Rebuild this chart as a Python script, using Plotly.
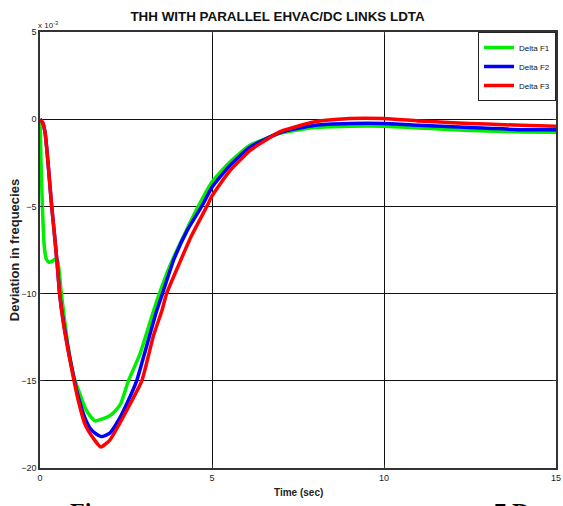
import plotly.graph_objects as go

# ---- data (values in units of 1e-3) ----
t_f1 = [0, 0.03, 0.07, 0.12, 0.18, 0.25, 0.35, 0.45, 0.52, 0.6, 0.7, 0.8, 0.9, 1.02, 1.15, 1.3,
        1.45, 1.6, 1.8, 2.03, 2.2, 2.35, 2.57, 2.9, 3.3, 3.47, 3.8, 4.2, 4.6, 5.0, 5.5, 6.1,
        7.0, 8.0, 9.0, 10.0, 11.0, 12.0, 13.0, 14.0, 15.0]
v_f1 = [0, -2.5, -5.0, -7.2, -8.0, -8.2, -8.15, -8.0, -8.2, -9.6, -11.3, -12.8, -14.0, -15.0,
        -15.7, -16.5, -17.0, -17.3, -17.2, -17.0, -16.7, -16.3, -15.0, -13.5, -11.0, -10.0,
        -8.3, -6.6, -5.0, -3.6, -2.5, -1.5, -0.8, -0.48, -0.4, -0.4, -0.5, -0.6, -0.68, -0.73, -0.75]

t_f2 = [0, 0.08, 0.15, 0.22, 0.28, 0.34, 0.42, 0.5, 0.57, 0.68, 0.82, 0.97, 1.11, 1.3, 1.45,
        1.6, 1.79, 2.03, 2.3, 2.55, 2.81, 3.1, 3.39, 3.56, 3.9, 4.3, 4.7, 5.0, 5.5, 6.1, 7.0,
        8.0, 9.0, 10.0, 11.0, 12.0, 13.0, 14.0, 15.0]
v_f2 = [0, -0.2, -0.8, -2.2, -3.6, -5.0, -6.6, -8.3, -10.0, -11.6, -13.2, -14.7, -15.9, -17.1,
        -17.7, -18.0, -18.2, -18.0, -17.2, -16.2, -15.0, -13.0, -11.0, -10.0, -8.0, -6.3, -5.0,
        -3.9, -2.7, -1.6, -0.75, -0.35, -0.25, -0.25, -0.35, -0.44, -0.52, -0.6, -0.6]

t_f3 = [0, 0.08, 0.15, 0.22, 0.28, 0.34, 0.42, 0.5, 0.57, 0.68, 0.82, 0.97, 1.11, 1.31, 1.55,
        1.77, 2.03, 2.3, 2.6, 2.96, 3.3, 3.54, 3.68, 4.0, 4.4, 4.85, 5.0, 5.5, 6.1, 6.4, 7.0,
        8.0, 9.0, 10.0, 11.0, 12.0, 13.0, 14.0, 15.0]
v_f3 = [0, -0.2, -0.8, -2.2, -3.6, -5.0, -6.6, -8.3, -10.0, -11.7, -13.3, -14.8, -16.1, -17.5,
        -18.3, -18.8, -18.4, -17.5, -16.4, -15.0, -12.4, -11.0, -10.0, -8.5, -6.7, -5.0, -4.4,
        -3.0, -1.8, -1.4, -0.7, -0.15, 0.04, 0.04, -0.1, -0.2, -0.28, -0.35, -0.4]

names = ["Delta F1", "Delta F2", "Delta F3"]
colors = ["#00ee00", "#0000ff", "#ff0000"]
x_ticks = [0, 5, 10, 15]
y_ticks = [5, 0, -5, -10, -15, -20]

fig = go.Figure()
for t, v, n, c in zip([t_f1, t_f2, t_f3], [v_f1, v_f2, v_f3], names, colors):
    fig.add_trace(go.Scatter(x=t, y=v, mode="lines", name=n,
                             line=dict(color=c, width=3.5, shape="spline", smoothing=0.5)))

axis_common = dict(showgrid=True, gridcolor="#111111", gridwidth=1, zeroline=False,
                   showline=True, linecolor="#333333", linewidth=1.5, mirror="allticks",
                   ticks="inside", ticklen=3, tickcolor="#333333", automargin=False,
                   tickfont=dict(family="Liberation Sans, Arial", size=9, color="#222222"))

fig.update_layout(
    width=563, height=506, autosize=False,
    margin=dict(l=40, r=7, t=32, b=38, autoexpand=False),
    paper_bgcolor="white", plot_bgcolor="white",
    title=dict(text="<b>THH WITH PARALLEL EHVAC/DC LINKS LDTA</b>", xref="container",
               x=0.493, xanchor="center", yref="container", y=0.967, yanchor="middle",
               font=dict(family="Liberation Sans, Arial", size=13.4, color="#111111")),
    xaxis=dict(range=[0, 15], tickvals=x_ticks, **axis_common),
    yaxis=dict(range=[-20, 5], tickvals=y_ticks, **axis_common),
    showlegend=True,
    legend=dict(x=1, xanchor="right", y=1, yanchor="top", bgcolor="white",
                bordercolor="#222222", borderwidth=1,
                font=dict(family="Liberation Sans, Arial", size=8, color="#111111"),
                itemwidth=30, tracegroupgap=0),
    annotations=[
        dict(text="x 10<sup>-3</sup>", xref="paper", yref="paper", x=-0.008, y=1.0,
             xanchor="left", yanchor="bottom", showarrow=False,
             font=dict(family="Liberation Sans, Arial", size=8, color="#222222")),
        dict(text="<b>Deviation in frequecies</b>", xref="paper", yref="paper",
             x=-0.05, y=0.5, xanchor="center", yanchor="middle", textangle=-90,
             showarrow=False,
             font=dict(family="Liberation Sans, Arial", size=13, color="#222222")),
        dict(text="<b>Time (sec)</b>", xref="paper", yref="paper", x=0.5, y=-0.038,
             xanchor="center", yanchor="top", showarrow=False,
             font=dict(family="Liberation Sans, Arial", size=10, color="#222222")),
        dict(text="<b>Fig</b>", xref="paper", yref="paper", x=0.055, y=-0.064,
             xanchor="left", yanchor="top", showarrow=False,
             font=dict(family="Liberation Serif, Times New Roman", size=24, color="#000000")),
        dict(text="<b>7 Dev</b>", xref="paper", yref="paper", x=0.876, y=-0.064,
             xanchor="left", yanchor="top", showarrow=False,
             font=dict(family="Liberation Serif, Times New Roman", size=24, color="#000000")),
    ],
)

fig.write_html("out.html",
               config={"responsive": False, "displayModeBar": False},
               post_script="document.body.style.margin='0';document.body.style.overflow='hidden';")
